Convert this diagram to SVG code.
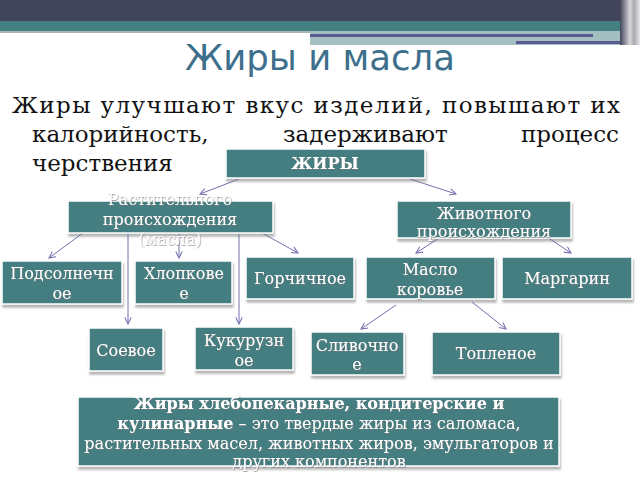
<svg xmlns="http://www.w3.org/2000/svg" width="640" height="480" viewBox="0 0 640 480">
<defs>
<filter id="sh" x="-10%" y="-20%" width="130%" height="160%">
<feDropShadow dx="1" dy="3" stdDeviation="1" flood-color="#7a7a7a" flood-opacity="0.55"/>
</filter>
<filter id="tsh" x="-10%" y="-30%" width="120%" height="160%">
<feDropShadow dx="0.6" dy="0.8" stdDeviation="0.5" flood-color="#777" flood-opacity="0.8"/>
</filter>
<marker id="ar" viewBox="0 0 10 10" refX="9" refY="5" markerWidth="8" markerHeight="8" orient="auto" markerUnits="userSpaceOnUse">
<path d="M1,1 L9,5 L1,9" fill="none" stroke="#7470b0" stroke-width="1.3"/>
</marker>
<linearGradient id="rs" x1="0" x2="1" y1="0" y2="0">
<stop offset="0" stop-color="#41445a"/>
<stop offset="0.3" stop-color="#9c9ca8"/>
<stop offset="0.5" stop-color="#d8d8dc"/>
<stop offset="0.7" stop-color="#a8a8b0"/>
<stop offset="1" stop-color="#e8e8ea"/>
</linearGradient>
</defs>
<style>
.box{fill:#447e81;stroke:#ffffff;stroke-width:1.5;filter:url(#sh)}
.nt{font-family:"DejaVu Serif","Liberation Serif",serif;font-size:16px;fill:#ffffff;text-anchor:middle;filter:url(#tsh)}
.body{font-family:"DejaVu Serif","Liberation Serif",serif;font-size:23px;fill:#111111}
.con line{stroke:#7470b0;stroke-width:1;marker-end:url(#ar)}
</style>
<rect width="640" height="480" fill="#ffffff"/>
<g id="header">
<rect x="0" y="0" width="640" height="21" fill="#41445a"/>
<rect x="0" y="21" width="640" height="10" fill="#447f82"/>
<rect x="0" y="31" width="310" height="2" fill="#a9b4b6"/>
<rect x="310" y="31" width="312" height="14" fill="#a3bfc0"/>
<rect x="310" y="34" width="283" height="3" fill="#5b5a92"/>
<rect x="516" y="41" width="112" height="3" fill="#5b5a92"/>
<rect x="620" y="0" width="20" height="45" fill="url(#rs)"/>
</g>
<text x="320" y="70" text-anchor="middle" font-family="'DejaVu Sans','Liberation Sans',sans-serif" font-size="35.5" fill="#3e6f8c">Жиры и масла</text>
<g id="intro" class="body">
<text x="12" y="113" textLength="608" lengthAdjust="spacing">Жиры улучшают вкус изделий, повышают их</text>
<text x="32" y="142">калорийность,</text>
<text x="283" y="142">задерживают</text>
<text x="619" y="142" text-anchor="end">процесс</text>
<text x="32" y="171">черствения</text>
</g>
<g id="connectors" class="con">
<line x1="239" y1="179" x2="200" y2="194"/>
<line x1="410" y1="179" x2="456" y2="194"/>
<line x1="87" y1="230" x2="49" y2="258"/>
<line x1="179" y1="234" x2="179" y2="258"/>
<line x1="128" y1="233" x2="128" y2="324"/>
<line x1="239" y1="233" x2="239" y2="324"/>
<line x1="255" y1="229" x2="298" y2="253"/>
<line x1="447" y1="233" x2="416" y2="253"/>
<line x1="544" y1="235" x2="571" y2="253"/>
<line x1="396" y1="305" x2="361" y2="329"/>
<line x1="472" y1="302" x2="506" y2="329"/>
</g>
<g id="n-zhiry">
<rect class="box" x="226" y="149" width="199" height="29"/>
<text class="nt" x="325" y="169" font-weight="bold">ЖИРЫ</text>
</g>
<g id="n-rast">
<rect class="box" x="68" y="201" width="205" height="32"/>
<text class="nt" x="170" y="205">Растительного</text>
<text class="nt" x="170" y="225">происхождения</text>
<text class="nt" x="170" y="245">(масла)</text>
</g>
<g id="n-zhiv">
<rect class="box" x="397" y="201" width="174" height="37"/>
<text class="nt" x="484" y="219">Животного</text>
<text class="nt" x="484" y="237">происхождения</text>
</g>
<g id="n-podsol">
<rect class="box" x="2" y="261" width="120" height="43"/>
<text class="nt" x="62" y="279">Подсолнечн</text>
<text class="nt" x="62" y="299">ое</text>
</g>
<g id="n-hlop">
<rect class="box" x="135" y="261" width="97" height="43"/>
<text class="nt" x="184" y="279">Хлопкове</text>
<text class="nt" x="184" y="299">е</text>
</g>
<g id="n-gorch">
<rect class="box" x="246" y="257" width="108" height="42"/>
<text class="nt" x="300" y="284">Горчичное</text>
</g>
<g id="n-maslo">
<rect class="box" x="366" y="257" width="129" height="42"/>
<text class="nt" x="430" y="275">Масло</text>
<text class="nt" x="430" y="295">коровье</text>
</g>
<g id="n-marg">
<rect class="box" x="502" y="257" width="130" height="42"/>
<text class="nt" x="567" y="284">Маргарин</text>
</g>
<g id="n-soev">
<rect class="box" x="89" y="328" width="74" height="43"/>
<text class="nt" x="126" y="356">Соевое</text>
</g>
<g id="n-kuk">
<rect class="box" x="195" y="327" width="98" height="43"/>
<text class="nt" x="244" y="346">Кукурузн</text>
<text class="nt" x="244" y="366">ое</text>
</g>
<g id="n-sliv">
<rect class="box" x="311" y="332" width="93" height="43"/>
<text class="nt" x="357" y="351">Сливочно</text>
<text class="nt" x="357" y="370">е</text>
</g>
<g id="n-topl">
<rect class="box" x="432" y="332" width="128" height="43"/>
<text class="nt" x="496" y="359">Топленое</text>
</g>
<g id="n-bottom">
<rect class="box" x="78" y="397" width="481" height="69"/>
<text class="nt" x="319" y="409"><tspan font-weight="bold">Жиры хлебопекарные, кондитерские и</tspan></text>
<text class="nt" x="319" y="429"><tspan font-weight="bold">кулинарные</tspan> – это твердые жиры из саломаса,</text>
<text class="nt" x="319" y="449">растительных масел, животных жиров, эмульгаторов и</text>
<text class="nt" x="319" y="467">других компонентов</text>
</g>
</svg>
